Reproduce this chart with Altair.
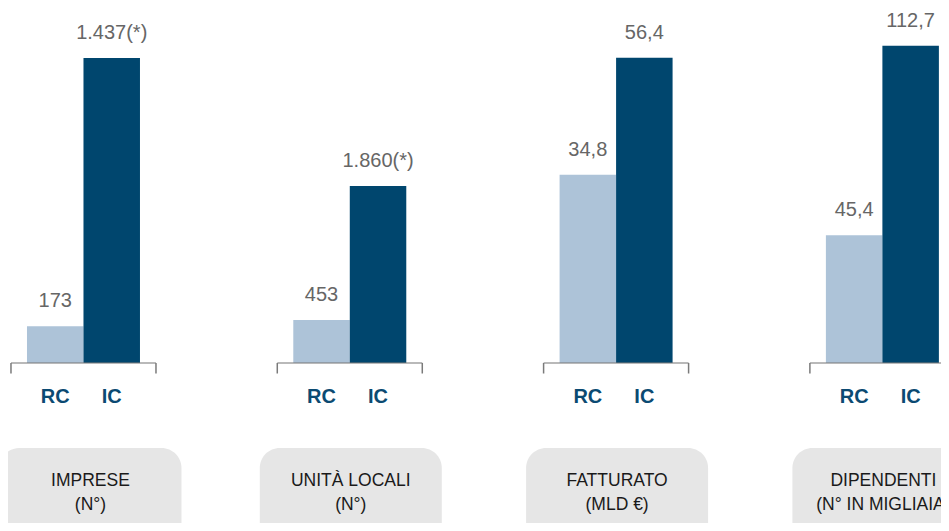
import altair as alt
import pandas as pd

# ---- data ----
panels = ["IMPRESE", "UNITÀ LOCALI", "FATTURATO", "DIPENDENTI"]
units = ["(N°)", "(N°)", "(MLD €)", "(N° IN MIGLIAIA)"]
series = ["RC", "IC"]
rc_values = [173, 453, 34.8, 45.4]
ic_values = [1437, 1860, 56.4, 112.7]
rc_labels = ["173", "453", "34,8", "45,4"]
ic_labels = ["1.437(*)", "1.860(*)", "56,4", "112,7"]
scale_max = [1673, 3730, 65.6, 126.1]  # each panel has its own y scale

# ---- style ----
W, H = 933, 355
FONT = "Liberation Sans"
LIGHT, DARK = "#adc3d8", "#00466e"
AXIS_BLUE = "#0b4a72"
GREY_LINE = "#7a7a7a"
BRACKET = 145

xenc = alt.X("panel:N",
             scale=alt.Scale(domain=panels, paddingInner=0.5757, paddingOuter=0.0396, align=0.9),
             axis=None)
xoff = alt.XOffset("series:N", scale=alt.Scale(domain=series, paddingInner=0, paddingOuter=0))
colr = alt.Color("series:N", scale=alt.Scale(domain=series, range=[LIGHT, DARK]), legend=None)

# ---- per-panel bars and value labels (own y scale each) ----
panel_layers = []
for i in range(len(panels)):
    df = pd.DataFrame({
        "panel": [panels[i]] * 2,
        "series": series,
        "value": [rc_values[i], ic_values[i]],
        "label": [rc_labels[i], ic_labels[i]],
    })
    y = alt.Y("value:Q", scale=alt.Scale(domain=[0, scale_max[i]], nice=False, zero=True),
              axis=None)
    base = alt.Chart(df)
    bars = base.mark_bar().encode(x=xenc, xOffset=xoff, y=y, color=colr)
    labels = base.mark_text(dy=-25, baseline="middle", fontSize=20, color="#666666",
                            font=FONT).encode(x=xenc, xOffset=xoff, y=y, text="label:N")
    panel_layers.append(alt.layer(bars, labels))

# ---- decorations: brackets, category labels, title boxes ----
titles = pd.DataFrame({"panel": panels,
                       "title": [p + "\n" + u for p, u in zip(panels, units)]})
cats = pd.DataFrame({"panel": [p for p in panels for _ in series],
                     "series": [s for _ in panels for s in series]})

first = alt.Chart(titles).transform_filter(alt.datum.panel == panels[0])
rest = alt.Chart(titles).transform_filter(alt.datum.panel != panels[0])

box_first = first.mark_bar(width=182, cornerRadius=20, color="#e6e6e6", xOffset=7).encode(
    x=xenc, y=alt.value(440), y2=alt.value(620))
box_rest = rest.mark_bar(width=182, cornerRadius=20, color="#e6e6e6", xOffset=1).encode(
    x=xenc, y=alt.value(440), y2=alt.value(620))
txt_first = first.mark_text(lineBreak="\n", lineHeight=24, fontSize=17.5, font=FONT,
                            color="#1a1a1a", baseline="middle", xOffset=7).encode(
    x=xenc, y=alt.value(473), text="title:N")
txt_rest = rest.mark_text(lineBreak="\n", lineHeight=24, fontSize=17.5, font=FONT,
                          color="#1a1a1a", baseline="middle", xOffset=1).encode(
    x=xenc, y=alt.value(473), text="title:N")

tchart = alt.Chart(titles)
bracket = tchart.mark_tick(orient="horizontal", size=BRACKET, thickness=1.5,
                           color=GREY_LINE).encode(x=xenc, y=alt.value(H))
end_l = tchart.mark_rule(color=GREY_LINE, strokeWidth=1.5, xOffset=-BRACKET / 2).encode(
    x=xenc, y=alt.value(H), y2=alt.value(H + 10.5))
end_r = tchart.mark_rule(color=GREY_LINE, strokeWidth=1.5, xOffset=BRACKET / 2).encode(
    x=xenc, y=alt.value(H), y2=alt.value(H + 10.5))

cat_text = alt.Chart(cats).mark_text(fontSize=20, fontWeight="bold", font=FONT,
                                     color=AXIS_BLUE, baseline="middle").encode(
    x=xenc, xOffset=xoff, y=alt.value(H + 34), text="series:N")

chart = alt.layer(
    box_first, box_rest, txt_first, txt_rest, *panel_layers, bracket, end_l, end_r, cat_text
).resolve_scale(y="independent").properties(
    width=W, height=H,
    padding={"left": 0, "top": 0, "right": 0, "bottom": 160},
    autosize=alt.AutoSizeParams(type="none"),
).configure_view(stroke=None)

chart.save("out.html", embed_options={"renderer": "svg", "actions": False})
